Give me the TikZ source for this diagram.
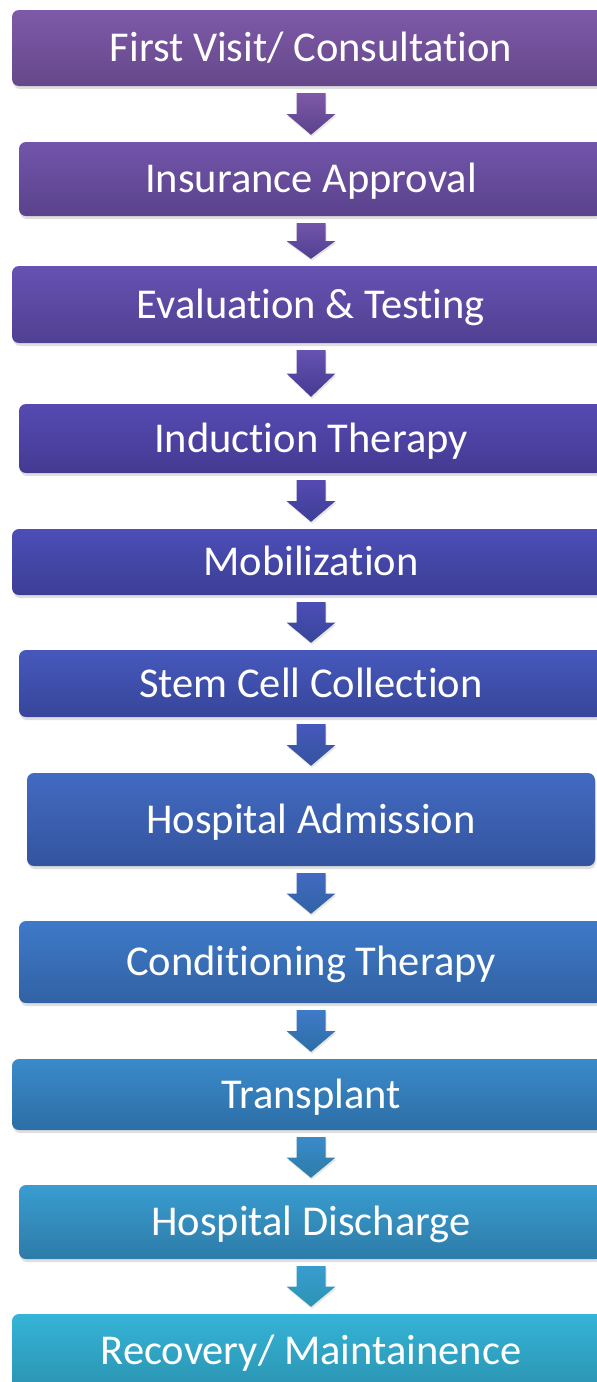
\documentclass[tikz,border=0pt]{standalone}
\usepackage{fontspec}
\setmainfont[Ligatures=NoCommon]{Carlito}
\usetikzlibrary{calc,shadows}

% box colours, top and bottom of each gradient
\definecolor{visitTop}{RGB}{126,89,168}    \definecolor{visitBot}{RGB}{101,72,138}
\definecolor{insurTop}{RGB}{114,85,170}    \definecolor{insurBot}{RGB}{90,66,140}
\definecolor{evalTop}{RGB}{102,82,178}     \definecolor{evalBot}{RGB}{80,64,146}
\definecolor{inducTop}{RGB}{86,74,178}     \definecolor{inducBot}{RGB}{68,58,146}
\definecolor{mobilTop}{RGB}{76,78,182}     \definecolor{mobilBot}{RGB}{60,62,150}
\definecolor{stemTop}{RGB}{70,88,188}      \definecolor{stemBot}{RGB}{55,70,154}
\definecolor{admitTop}{RGB}{66,106,194}    \definecolor{admitBot}{RGB}{52,84,158}
\definecolor{condTop}{RGB}{62,122,200}     \definecolor{condBot}{RGB}{49,98,164}
\definecolor{transTop}{RGB}{58,138,202}    \definecolor{transBot}{RGB}{45,110,166}
\definecolor{dischTop}{RGB}{57,156,208}    \definecolor{dischBot}{RGB}{45,124,168}
\definecolor{recovTop}{RGB}{53,180,215}    \definecolor{recovBot}{RGB}{43,148,178}

% block arrow between two stages: from, to, top colour, bottom colour
\newcommand{\stagearrow}[4]{%
  \coordinate (at) at ($(#1.south)+(0,7)$);
  \coordinate (ab) at ($(#2.north)+(0,-7)$);
  \coordinate (am) at ($(at)!0.5!(ab)$);
  \path[top color=#3, bottom color=#4, drop shadow={shadow xshift=1pt, shadow yshift=-2pt, opacity=0.2}]
    ($(at)+(-14.5,0)$) -- ($(at)+(14.5,0)$) -- ($(am)+(14.5,0)$) -- ($(am)+(24.5,0)$)
    -- (ab) -- ($(am)+(-24.5,0)$) -- ($(am)+(-14.5,0)$) -- cycle;
}

\begin{document}
\begin{tikzpicture}[x=1pt, y=-1pt]
  \tikzstyle{stage} = [rounded corners=7pt, text=white, inner sep=0pt,
    font=\fontsize{42.5}{48}\selectfont, text height=27pt, text depth=0pt,
    drop shadow={shadow xshift=1pt, shadow yshift=-3pt, opacity=0.25}]
  \useasboundingbox (0,0) rectangle (597,1382);
  \clip (0,0) rectangle (597,1382);

  \node[stage, minimum width=598pt, minimum height=76pt, top color=visitTop, bottom color=visitBot] (visit) at (311,48) {First Visit/ Consultation};
  \node[stage, minimum width=584pt, minimum height=74pt, top color=insurTop, bottom color=insurBot] (insur) at (311,179) {Insurance Approval};
  \node[stage, minimum width=598pt, minimum height=77pt, top color=evalTop, bottom color=evalBot] (eval) at (311,304.5) {Evaluation \& Testing};
  \node[stage, minimum width=584pt, minimum height=69pt, top color=inducTop, bottom color=inducBot] (induc) at (311,438.5) {Induction Therapy};
  \node[stage, minimum width=598pt, minimum height=66pt, top color=mobilTop, bottom color=mobilBot] (mobil) at (311,562) {Mobilization};
  \node[stage, minimum width=584pt, minimum height=67pt, top color=stemTop, bottom color=stemBot] (stem) at (311,683.5) {Stem Cell Collection};
  \node[stage, minimum width=568pt, minimum height=93pt, top color=admitTop, bottom color=admitBot] (admit) at (311,819.5) {Hospital Admission};
  \node[stage, minimum width=584pt, minimum height=82pt, top color=condTop, bottom color=condBot] (cond) at (311,962) {Conditioning Therapy};
  \node[stage, minimum width=598pt, minimum height=71pt, top color=transTop, bottom color=transBot] (trans) at (311,1094.5) {Transplant};
  \node[stage, minimum width=584pt, minimum height=74pt, top color=dischTop, bottom color=dischBot] (disch) at (311,1222) {Hospital Discharge};
  \node[stage, minimum width=598pt, minimum height=74pt, top color=recovTop, bottom color=recovBot] (recov) at (311,1351) {Recovery/ Maintainence};

  \stagearrow{visit}{insur}{visitTop}{insurBot}
  \stagearrow{insur}{eval}{insurTop}{evalBot}
  \stagearrow{eval}{induc}{evalTop}{inducBot}
  \stagearrow{induc}{mobil}{inducTop}{mobilBot}
  \stagearrow{mobil}{stem}{mobilTop}{stemBot}
  \stagearrow{stem}{admit}{stemTop}{admitBot}
  \stagearrow{admit}{cond}{admitTop}{condBot}
  \stagearrow{cond}{trans}{condTop}{transBot}
  \stagearrow{trans}{disch}{transTop}{dischBot}
  \stagearrow{disch}{recov}{dischTop}{recovBot}
\end{tikzpicture}
\end{document}
